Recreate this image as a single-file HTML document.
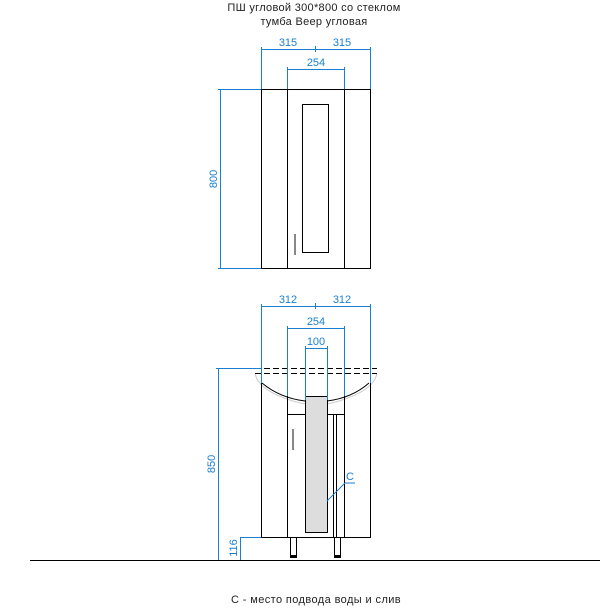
<!DOCTYPE html>
<html><head><meta charset="utf-8"><style>
html,body{margin:0;padding:0;background:#fff;}
svg{display:block;}
text{font-family:"Liberation Sans","DejaVu Sans",sans-serif;}
</style></head><body>
<svg width="610" height="613" viewBox="0 0 610 613" xmlns="http://www.w3.org/2000/svg">
<text x="314" y="11" font-size="11" text-anchor="middle" fill="#222" letter-spacing="0.3">ПШ угловой 300*800 со стеклом</text>
<text x="314" y="25" font-size="11" text-anchor="middle" fill="#222" letter-spacing="0.3">тумба Веер угловая</text>

<g fill="none" stroke="#000" stroke-width="1">
<rect x="261.5" y="89.5" width="109" height="179"/>
<line x1="287.5" y1="89" x2="287.5" y2="268"/>
<line x1="344.5" y1="89" x2="344.5" y2="268"/>
<rect x="302.5" y="104.5" width="26" height="148"/>
</g>
<rect x="294" y="234" width="2" height="21" fill="#888"/>
<g stroke="#1a7fd0" stroke-width="1" fill="none">
<line x1="261.5" y1="47" x2="261.5" y2="89"/>
<line x1="370.5" y1="47" x2="370.5" y2="89"/>
<line x1="261" y1="49.5" x2="371" y2="49.5"/>
<line x1="315.5" y1="46" x2="315.5" y2="52"/>
<line x1="287.5" y1="67" x2="287.5" y2="89"/>
<line x1="344.5" y1="67" x2="344.5" y2="89"/>
<line x1="287" y1="69.5" x2="345" y2="69.5"/>
<line x1="220.5" y1="89" x2="220.5" y2="268"/>
<line x1="218" y1="89.5" x2="261" y2="89.5"/>
<line x1="218" y1="268.5" x2="261" y2="268.5"/>
</g>
<g fill="#1a7fd0" font-size="11" text-anchor="middle">
<text x="288" y="46">315</text>
<text x="342" y="46">315</text>
<text x="316" y="66">254</text>
<text x="0" y="0" transform="translate(217,179) rotate(-90)">800</text>
</g>

<path d="M255,373 Q258,392 300,403 Q316,406 332,403 Q374,392 377,373" fill="none" stroke="#ccc" stroke-width="1"/>
<g fill="none" stroke="#000" stroke-width="1">
<line x1="255" y1="368.5" x2="377" y2="368.5" stroke-dasharray="6,3"/>
<line x1="255" y1="373.5" x2="377" y2="373.5" stroke-dasharray="6,3"/>
<path d="M262,383 Q280,398 305,401 Q316,402 327,401 Q352,398 369,383"/>
<line x1="261.5" y1="383" x2="261.5" y2="537"/>
<line x1="370.5" y1="383" x2="370.5" y2="537"/>
<line x1="261" y1="537.5" x2="371" y2="537.5"/>
<line x1="287.5" y1="396" x2="287.5" y2="537"/>
<line x1="344.5" y1="396" x2="344.5" y2="537"/>
<line x1="287" y1="414.5" x2="345" y2="414.5"/>
<line x1="333.5" y1="414" x2="333.5" y2="537"/>
<line x1="336.5" y1="414" x2="336.5" y2="537"/>
</g>
<rect x="305.5" y="396.5" width="22" height="136" fill="#ddd" stroke="#000" stroke-width="1"/>
<rect x="292" y="429" width="2" height="21" fill="#888"/>
<rect x="290.5" y="537.5" width="6" height="18" fill="#fff" stroke="#000"/>
<rect x="334.5" y="537.5" width="6" height="18" fill="#fff" stroke="#000"/>
<rect x="290" y="555" width="7" height="3" fill="#000"/>
<rect x="334" y="555" width="7" height="3" fill="#000"/>
<line x1="30" y1="560.5" x2="600" y2="560.5" stroke="#000" stroke-width="1"/>
<g stroke="#1a7fd0" stroke-width="1" fill="none">
<line x1="261.5" y1="304" x2="261.5" y2="383"/>
<line x1="370.5" y1="304" x2="370.5" y2="383"/>
<line x1="261" y1="306.5" x2="371" y2="306.5"/>
<line x1="315.5" y1="303" x2="315.5" y2="309"/>
<line x1="287.5" y1="326" x2="287.5" y2="396"/>
<line x1="344.5" y1="326" x2="344.5" y2="396"/>
<line x1="287" y1="328.5" x2="345" y2="328.5"/>
<line x1="305.5" y1="346" x2="305.5" y2="400"/>
<line x1="327.5" y1="346" x2="327.5" y2="400"/>
<line x1="305" y1="348.5" x2="328" y2="348.5"/>
<line x1="218.5" y1="369" x2="218.5" y2="560"/>
<line x1="216" y1="368.5" x2="262" y2="368.5"/>
<line x1="240.5" y1="537" x2="240.5" y2="560"/>
<line x1="240" y1="537.5" x2="261" y2="537.5"/>
<line x1="327" y1="501" x2="345" y2="483"/>
<line x1="345" y1="483" x2="355" y2="483"/>
</g>
<g fill="#1a7fd0" font-size="11" text-anchor="middle">
<text x="288" y="303">312</text>
<text x="342" y="303">312</text>
<text x="316" y="325">254</text>
<text x="316" y="345">100</text>
<text x="350" y="480">С</text>
<text x="0" y="0" transform="translate(215,464) rotate(-90)">850</text>
<text x="0" y="0" transform="translate(237,548) rotate(-90)">116</text>
</g>
<text x="316" y="603" font-size="11" text-anchor="middle" fill="#222" letter-spacing="0.4">С - место подвода воды и слив</text>
</svg>
</body></html>
